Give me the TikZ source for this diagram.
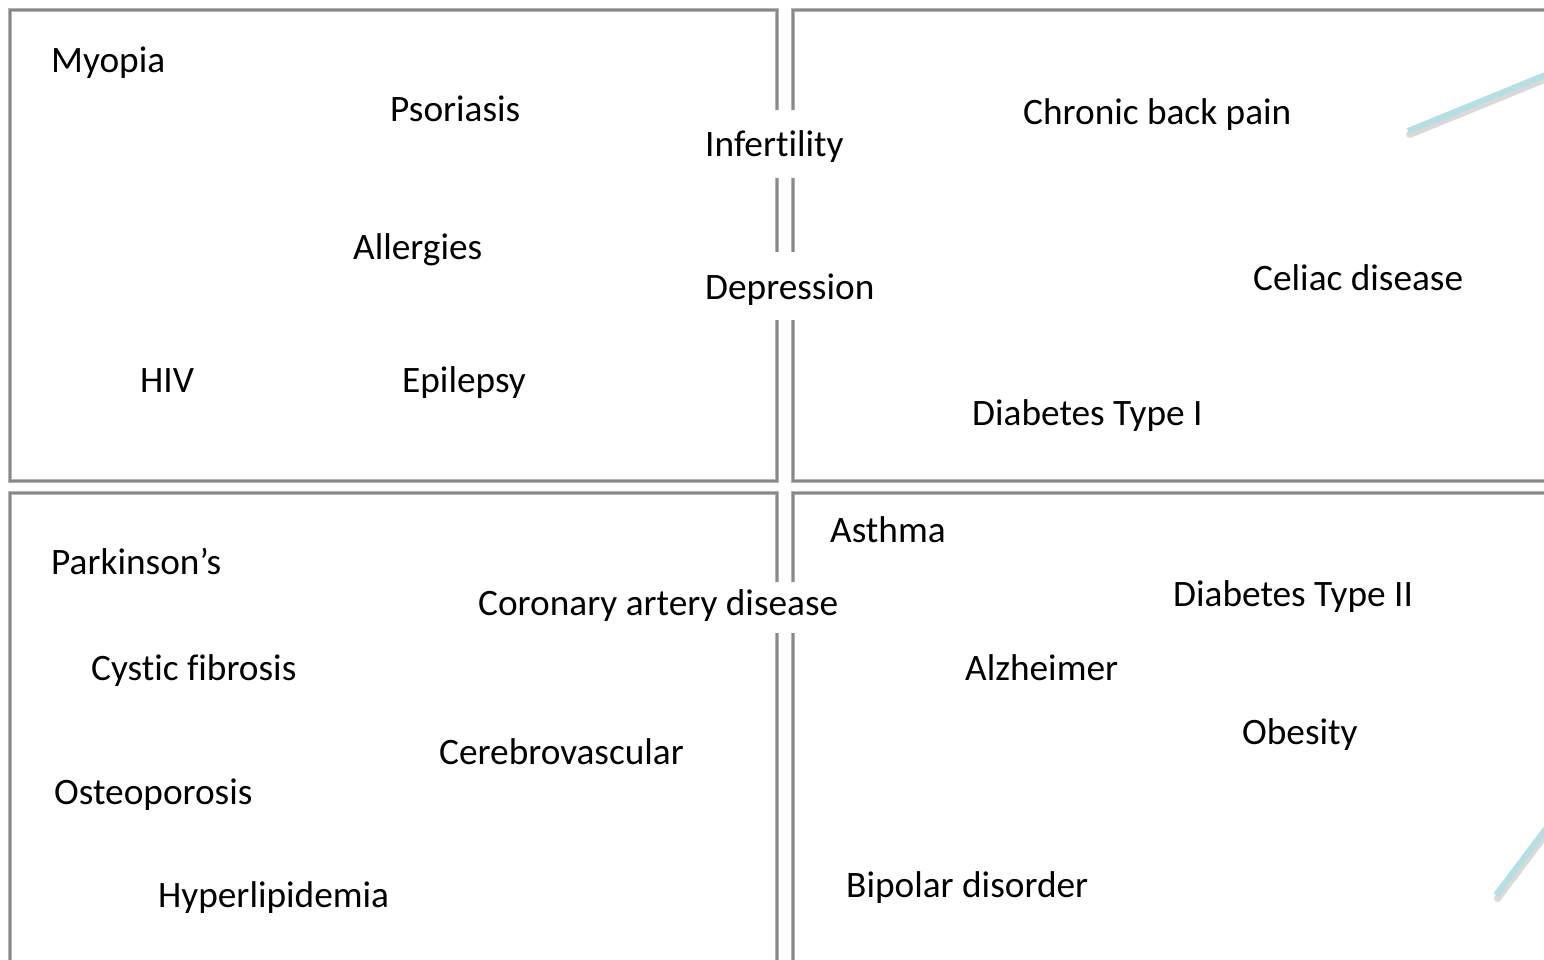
\documentclass[tikz,border=0pt]{standalone}
\usepackage{fontspec}
\setmainfont{Carlito}[Ligatures={NoCommon,NoContextual}]
\definecolor{frame}{HTML}{888888}
\definecolor{framelite}{HTML}{B4B4B4}
\definecolor{teal}{HTML}{B6DFE3}
\tikzset{
  lbl/.style={anchor=base west, inner sep=0pt, font=\fontsize{37.3}{45}\selectfont},
  panel/.style={draw=frame, line width=2.8pt},
  panelhalo/.style={draw=framelite, line width=4pt},
  accent/.style={draw=teal, line width=6pt},
  accentshadow/.style={draw=black!15, line width=7pt, line cap=round}
}
\begin{document}
\begin{tikzpicture}[x=1pt,y=-1pt]
\useasboundingbox[fill=white] (0,0) rectangle (1544,960);
% panels
\draw[panelhalo] (10,10) rectangle (777,481);
\draw[panel] (10,10) rectangle (777,481);
\draw[panelhalo] (793,10) rectangle (1600,481);
\draw[panel] (793,10) rectangle (1600,481);
\draw[panelhalo] (10,493) rectangle (777,1000);
\draw[panel] (10,493) rectangle (777,1000);
\draw[panelhalo] (793,493) rectangle (1600,1000);
\draw[panel] (793,493) rectangle (1600,1000);
% teal accents
\coordinate (a1) at (1408,131);
\coordinate (a2) at (1560,69);
\coordinate (b1) at (1496,895);
\coordinate (b2) at (1560,810);
\draw[accentshadow] ([shift={(1.5,3.5)}]a1) -- ([shift={(1.5,3.5)}]a2);
\draw[accentshadow] ([shift={(1.5,3.5)}]b1) -- ([shift={(1.5,3.5)}]b2);
\draw[accent] (a1) -- (a2);
\draw[accent] (b1) -- (b2);
% gap-covering labels
\fill[white] (698,110) rectangle (850,178);
\node[lbl] (infertility) at (705,157) {Infertility};
\fill[white] (698,252) rectangle (880,320);
\node[lbl] (depression) at (705,299) {Depression};
\fill[white] (470,582) rectangle (845,633);
\node[lbl] (coronary) at (478,615) {Coronary artery disease};
% labels
\node[lbl] (myopia) at (51,73) {Myopia};
\node[lbl] (psoriasis) at (390,122) {Psoriasis};
\node[lbl] (allergies) at (353,259) {Allergies};
\node[lbl] (hiv) at (140,392) {HIV};
\node[lbl] (epilepsy) at (402,392) {Epilepsy};
\node[lbl] (back) at (1023,125) {Chronic back pain};
\node[lbl] (celiac) at (1253,290) {Celiac disease};
\node[lbl] (diab1) at (972,425) {Diabetes Type I};
\node[lbl] (asthma) at (830,542) {Asthma};
\node[lbl] (parkinson) at (51,574) {Parkinson’s};
\node[lbl] (diab2) at (1173,606) {Diabetes Type II};
\node[lbl] (cystic) at (91,680) {Cystic fibrosis};
\node[lbl] (alzheimer) at (965,680) {Alzheimer};
\node[lbl] (obesity) at (1242,744) {Obesity};
\node[lbl] (cerebro) at (439,764) {Cerebrovascular};
\node[lbl] (osteo) at (54,804) {Osteoporosis};
\node[lbl] (bipolar) at (846,897) {Bipolar disorder};
\node[lbl] (hyper) at (158,907) {Hyperlipidemia};
\end{tikzpicture}
\end{document}
